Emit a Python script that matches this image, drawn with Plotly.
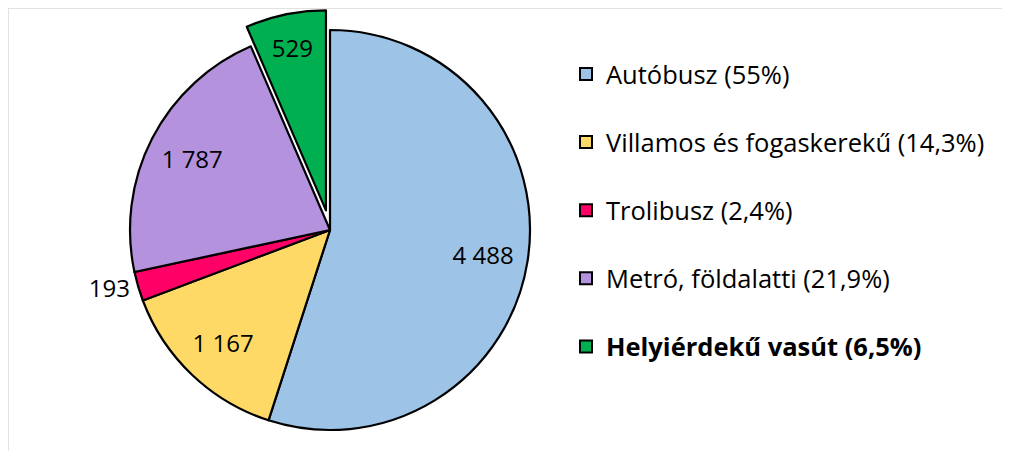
import plotly.graph_objects as go

# data
labels = ["Autóbusz", "Villamos és fogaskerekű", "Trolibusz", "Metró, földalatti", "Helyiérdekű vasút"]
values = [4488, 1167, 193, 1787, 529]
value_texts = ["4 488", "1 167", "193", "1 787", "529"]
legend_names = ["Autóbusz (55%)", "Villamos és fogaskerekű (14,3%)", "Trolibusz (2,4%)",
                "Metró, földalatti (21,9%)", "<b>Helyiérdekű vasút (6,5%)</b>"]
colors = ["#9DC3E6", "#FFD966", "#FF0066", "#B592DE", "#00B050"]
pulls = [0, 0, 0, 0, 0.1]
text_pos = ["inside", "inside", "outside", "inside", "inside"]

W, H = 1010, 451
OFF = 8  # page body margin
font_name = "Open Sans, Lato, sans-serif"

# pie centre (330, 230) in the picture, radius 200 px
cx, cy = 330 - OFF, 230 - OFF
half = 200 * 1.1
pie_domain = dict(x=[(cx - half) / W, (cx + half) / W],
                  y=[max(0, 1 - (cy + half) / H), 1 - (cy - half) / H])

fig = go.Figure()

# coloured slices
fig.add_trace(go.Pie(
    labels=labels,
    values=values,
    textinfo="none",
    marker=dict(colors=colors, line=dict(color="black", width=2.2)),
    pull=pulls,
    sort=False,
    direction="clockwise",
    rotation=0,
    showlegend=False,
    automargin=False,
    domain=pie_domain,
))

# value labels (transparent ring so labels sit out toward the rim)
fig.add_trace(go.Pie(
    labels=labels,
    values=values,
    text=value_texts,
    texttemplate="%{text}",
    textposition=text_pos,
    insidetextorientation="horizontal",
    textfont=dict(size=24, color="black", family=font_name),
    marker=dict(colors=["rgba(0,0,0,0)"] * len(values), line=dict(width=0)),
    hole=0.55,
    pull=pulls,
    sort=False,
    direction="clockwise",
    rotation=0,
    showlegend=False,
    automargin=False,
    hoverinfo="skip",
    domain=pie_domain,
))

# legend entries
for name, c in zip(legend_names, colors):
    fig.add_trace(go.Scatter(
        x=[None], y=[None], mode="markers", name=name, legendgroup=name,
        marker=dict(symbol="square", size=15, color=c, line=dict(color="black", width=2)),
    ))

fig.update_layout(
    width=W, height=H,
    autosize=False,
    margin=dict(l=0, r=0, t=0, b=0, pad=0, autoexpand=False),
    paper_bgcolor="white",
    plot_bgcolor="white",
    font=dict(family=font_name, size=24, color="black"),
    uniformtext=dict(minsize=24, mode="show"),
    xaxis=dict(visible=False, domain=[0.99, 1]),
    yaxis=dict(visible=False, domain=[0.99, 1]),
    legend=dict(x=(566 - OFF) / W, y=0.905, xanchor="left", yanchor="top",
                tracegroupgap=32, itemsizing="constant",
                font=dict(size=25.5, family=font_name)),
    shapes=[dict(type="rect", xref="paper", yref="paper", x0=0, y0=0, x1=1, y1=1,
                 line=dict(color="#D9D9D9", width=1.5))],
)

fig.write_html("out.html")
